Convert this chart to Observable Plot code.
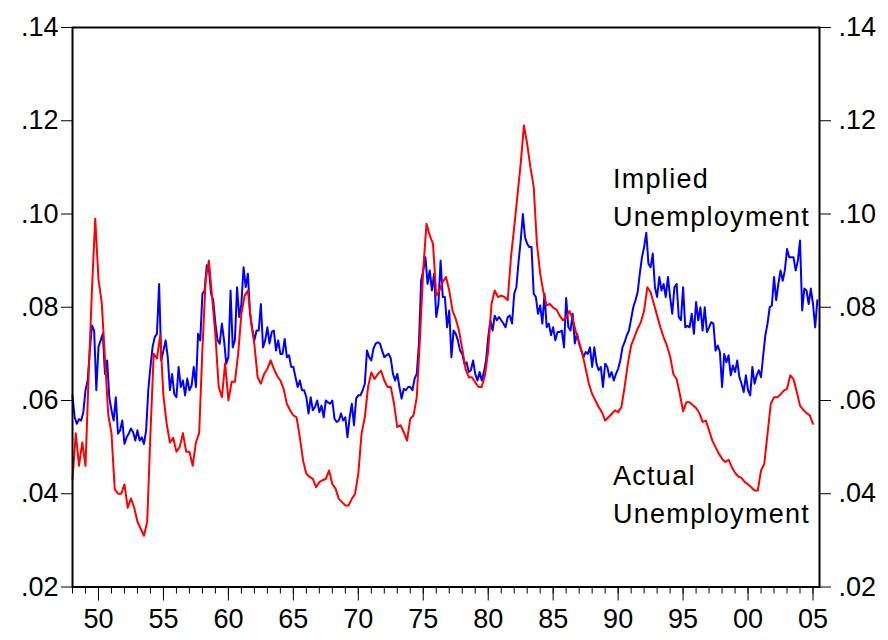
<!DOCTYPE html>
<html>
<head>
<meta charset="utf-8">
<script src="https://cdn.jsdelivr.net/npm/d3@7"></script>
<script src="https://cdn.jsdelivr.net/npm/@observablehq/plot@0.6"></script>
<style>
  body { margin: 0; background: #ffffff; }
  #chart { width: 888px; height: 640px; }
</style>
</head>
<body>
<div id="chart"></div>
<script>
// ---- data (unemployment rates in percent) ----
const startYear = 1948;
const actualPerYear = 4;    // quarterly readings
const impliedPerYear = 6;   // bi-monthly readings

const actualUnemployment = [
  4.3, 5.3, 4.6, 5.1,   4.6, 6.6, 8.4, 9.9,   8.6, 8.1, 6.9, 5.7,   5.3, 4.1, 4.0, 4.0,
  4.2, 3.7, 3.9, 3.7,   3.4, 3.25, 3.1, 3.4,  5.3, 7.0, 6.9, 7.4,   6.1, 5.5, 5.1, 5.2,
  4.9, 5.0, 5.3, 4.9,   4.9, 4.6, 5.1, 5.3,   7.1, 8.6, 9.0, 8.2,   7.4, 6.3, 6.07, 6.8,
  6.0, 6.4, 6.4, 7.0,   7.86, 8.25, 8.36, 7.68, 7.2, 6.5, 6.36, 6.57, 6.68, 6.86, 6.68, 6.53,
  6.43, 6.25, 5.93, 5.79, 5.68, 5.64, 5.21, 4.71, 4.43, 4.36, 4.32, 4.14, 4.25, 4.29, 4.32, 4.5,
  4.21, 4.11, 3.89, 3.82, 3.75, 3.75, 3.89, 4.0, 4.43, 5.29, 5.64, 6.29, 6.6, 6.46, 6.57, 6.64,
  6.43, 6.29, 6.29, 5.93, 5.43, 5.47, 5.32, 5.14, 5.61, 5.68, 6.07, 7.36, 8.82, 9.79, 9.54, 9.36,
  8.25, 8.36, 8.54, 8.65, 8.36, 7.93, 7.75, 7.5, 7.11, 6.68, 6.5, 6.5, 6.39, 6.29, 6.29, 6.54,
  7.07, 8.07, 8.36, 8.22, 8.25, 8.22, 8.15, 9.07, 9.72, 10.4, 11.08, 11.9, 11.5, 11.0, 10.58, 9.36,
  8.72, 8.32, 8.04, 8.07, 7.99, 7.95, 7.82, 7.72, 7.79, 7.92, 7.75, 7.47, 7.25, 7.0, 6.68, 6.36,
  6.14, 6.0, 5.86, 5.75, 5.57, 5.64, 5.71, 5.79, 5.75, 5.86, 6.29, 6.79, 7.18, 7.36, 7.54, 7.68,
  7.93, 8.43, 8.32, 8.07, 7.82, 7.57, 7.36, 7.18, 6.95, 6.57, 6.46, 6.14, 5.77, 5.96, 5.96, 5.9,
  5.84, 5.73, 5.54, 5.57, 5.36, 5.14, 5.0, 4.86, 4.75, 4.68, 4.73, 4.57, 4.45, 4.37, 4.34, 4.25,
  4.2, 4.14, 4.07, 4.07, 4.5, 4.64, 5.29, 5.93, 6.07, 6.07, 6.13, 6.21, 6.25, 6.54, 6.46, 6.18,
  5.89, 5.8, 5.73, 5.68, 5.5
];

const impliedUnemployment = [
  6.1, 5.64, 5.5, 5.6, 5.57, 5.75,      6.22, 6.43, 7.07, 7.61, 7.5, 6.22,
  7.15, 7.29, 7.43, 6.57, 6.86, 6.07,   5.79, 5.57, 6.07, 5.29, 5.36, 5.57,
  5.07, 5.21, 5.29, 5.4, 5.32, 5.14,    5.36, 5.14, 5.21, 5.07, 5.36, 6.22,
  6.72, 7.15, 7.36, 7.43, 8.5, 6.86,    7.07, 7.29, 6.93, 6.22, 6.57, 6.14,
  6.07, 6.72, 6.29, 6.43, 6.11, 6.47,   6.22, 6.32, 6.72, 6.29, 7.43, 7.29,
  8.29, 8.36, 8.9, 8.82, 8.29, 8.15,    7.65, 7.29, 7.22, 7.65, 7.29, 6.79,
  6.93, 8.36, 7.14, 7.29, 8.43, 7.79,   8.07, 8.86, 8.43, 8.72, 7.86, 7.54,
  7.29, 7.5, 7.5, 8.07, 7.14, 7.29,     7.57, 7.22, 7.47, 7.5, 7.07, 7.29,
  7.0, 7.0, 7.32, 6.93, 6.97, 6.72,     6.72, 6.5, 6.29, 6.43, 6.22, 6.22,
  6.07, 5.72, 6.07, 5.79, 5.86, 6.0,    5.75, 5.89, 5.64, 6.0, 5.96, 5.93,
  6.0, 5.61, 5.54, 5.57, 5.72, 5.57,    5.64, 5.21, 5.64, 5.93, 5.47, 6.04,
  6.11, 6.11, 6.22, 6.36, 7.07, 6.93,   6.86, 7.11, 7.22, 7.25, 7.22, 7.07,
  6.93, 6.97, 7.0, 6.9, 6.57, 6.43,     6.57, 6.29, 6.04, 6.25, 6.22, 6.29,
  6.29, 6.22, 6.47, 6.57, 7.22, 8.57,   8.79, 9.07, 8.5, 8.79, 8.36, 8.72,
  7.79, 8.07, 9.0, 8.22, 8.22, 7.57,    7.93, 6.93, 7.5, 7.43, 7.29, 7.07,
  7.0, 6.79, 6.82, 6.61, 6.65, 6.86,    6.57, 6.43, 6.61, 6.43, 6.61, 6.86,
  7.36, 7.72, 7.5, 7.82, 7.72, 7.79,    7.72, 7.65, 7.57, 7.79, 7.82, 7.65,
  8.29, 8.43, 8.97, 9.43, 10.0, 9.5,    9.36, 9.29, 9.29, 8.29, 8.22, 7.86,
  8.04, 7.65, 8.29, 7.57, 7.65, 7.4,    7.57, 7.29, 7.47, 7.47, 7.5, 7.14,
  8.2, 7.57, 7.5, 7.86, 7.22, 7.43,     7.22, 7.07, 6.93, 7.04, 7.0, 7.14,
  6.72, 7.14, 6.79, 6.65, 6.72, 6.29,   6.79, 6.72, 6.5, 6.61, 6.43, 6.57,
  6.68, 6.86, 7.14, 7.25, 7.4, 7.5,     7.75, 8.0, 8.15, 8.32, 8.72, 9.07,
  9.29, 9.6, 8.93, 8.86, 9.15, 8.43,    8.22, 8.65, 8.36, 8.5, 8.22, 8.65,
  8.22, 7.86, 8.43, 8.5, 7.79, 7.72,    8.43, 7.57, 7.6, 7.57, 7.86, 7.43,
  8.11, 7.72, 8.0, 7.5, 8.0, 7.47,      7.57, 7.68, 7.65, 7.07, 7.18, 7.04,
  6.29, 7.0, 6.82, 6.97, 6.54, 6.75,    6.61, 6.86, 6.5, 6.36, 6.18, 6.54,
  6.22, 6.11, 6.72, 6.36, 6.54, 6.65,   6.5, 6.97, 7.4, 7.65, 8.0, 8.04,
  8.65, 8.15, 8.5, 8.79, 8.57, 8.79,    9.25, 9.07, 9.07, 9.07, 8.79, 9.0,
  9.43, 7.93, 8.4, 8.36, 8.07, 8.4,     8.07, 7.57, 8.15
];

const yTicks = [0.02, 0.04, 0.06, 0.08, 0.10, 0.12, 0.14];
const yTickLabels = [".02", ".04", ".06", ".08", ".10", ".12", ".14"];
const xTicks = [1950, 1955, 1960, 1965, 1970, 1975, 1980, 1985, 1990, 1995, 2000, 2005];
const xTickLabels = ["50", "55", "60", "65", "70", "75", "80", "85", "90", "95", "00", "05"];
const minorYears = [1948, 1949, 1950, 1951, 1952, 1953, 1954, 1955, 1956, 1957, 1958, 1959,
  1960, 1961, 1962, 1963, 1964, 1965, 1966, 1967, 1968, 1969, 1970, 1971, 1972, 1973, 1974,
  1975, 1976, 1977, 1978, 1979, 1980, 1981, 1982, 1983, 1984, 1985, 1986, 1987, 1988, 1989,
  1990, 1991, 1992, 1993, 1994, 1995, 1996, 1997, 1998, 1999, 2000, 2001, 2002, 2003, 2004, 2005];

const labelTexts = ["Implied", "Unemployment", "Actual", "Unemployment"];
const labelYears = [1989.6, 1989.6, 1989.6, 1989.6];
const labelValues = [0.1075, 0.0993, 0.0438, 0.0356];

// ---- tables built from the arrays ----
const actualRows = actualUnemployment.map((v, i) => ({date: startYear + i / actualPerYear, value: v / 100}));
const impliedRows = impliedUnemployment.map((v, i) => ({date: startYear + i / impliedPerYear, value: v / 100}));
const labels = labelTexts.map((t, i) => ({text: t, date: labelYears[i], value: labelValues[i]}));
const yLabelMap = new Map(yTicks.map((t, i) => [t, yTickLabels[i]]));
const xLabelMap = new Map(xTicks.map((t, i) => [t, xTickLabels[i]]));

const font = "'Liberation Sans', Arial, Helvetica, sans-serif";

const chart = Plot.plot({
  width: 888,
  height: 640,
  marginLeft: 72,
  marginRight: 69,
  marginTop: 27,
  marginBottom: 53.5,
  style: {fontFamily: font, fontSize: "27px", color: "#000", background: "#fff", overflow: "visible"},
  x: {domain: [1948, 2005.5]},
  y: {domain: [0.02, 0.14]},
  marks: [
    Plot.axisY(yTicks, {anchor: "left", tickSize: 11, tickPadding: 3, tickFormat: d => yLabelMap.get(d), label: null, fontSize: 27}),
    Plot.axisY(yTicks, {anchor: "right", tickSize: 11, tickPadding: 8, tickFormat: d => yLabelMap.get(d), label: null, fontSize: 27}),
    Plot.axisX(minorYears, {anchor: "bottom", tickSize: 7, tickFormat: () => "", label: null}),
    Plot.axisX(xTicks, {anchor: "bottom", tickSize: 14, tickPadding: 8, tickFormat: d => xLabelMap.get(d), label: null, fontSize: 27}),
    Plot.line(impliedRows, {x: "date", y: "value", stroke: "#0000ff", strokeWidth: 2}),
    Plot.line(actualRows, {x: "date", y: "value", stroke: "#ff0000", strokeWidth: 2}),
    Plot.text(labels, {x: "date", y: "value", text: "text", textAnchor: "start", fontSize: 27, fill: "#000"}),
    Plot.frame({stroke: "#000", strokeWidth: 2})
  ]
});

chart.querySelectorAll('g[aria-label="text"]').forEach(g => g.setAttribute("letter-spacing", "1.3"));
document.getElementById("chart").appendChild(chart);
</script>
</body>
</html>
